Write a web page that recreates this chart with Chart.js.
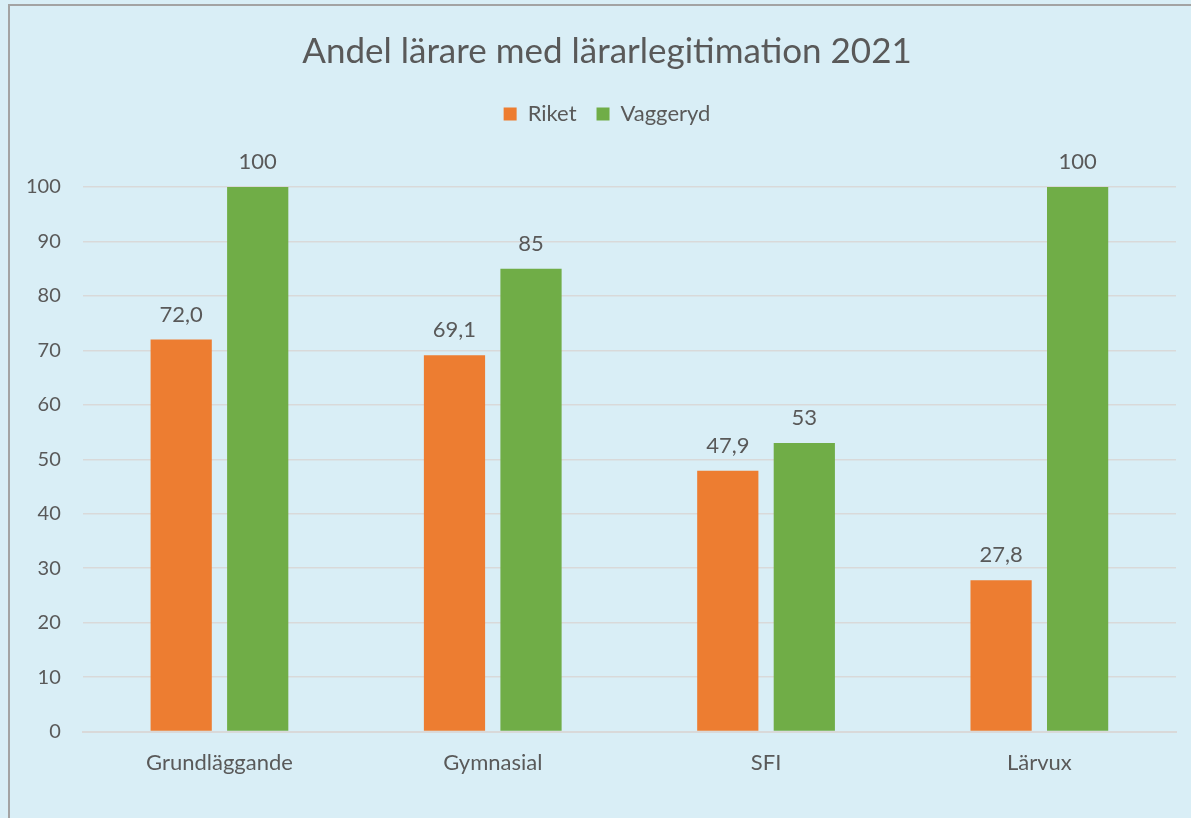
<!DOCTYPE html>
<html>
<head>
<meta charset="utf-8">
<script src="https://cdn.jsdelivr.net/npm/chart.js@4"></script>
<style>
  html, body { margin: 0; padding: 0; background: #d9eef6; overflow: hidden; }
  #frame {
    position: absolute; left: 8px; top: 4px; width: 1300px; height: 900px;
    border-left: 2px solid #a3a3a3; border-top: 2px solid #a3a3a3;
  }
  /* the original chart runs past the right edge, so the canvas does too */
  #chart { position: absolute; left: 0; top: 0; }
</style>
</head>
<body>
<div id="frame"></div>
<canvas id="chart" width="1214" height="818"></canvas>
<script>
const categories = ["Grundläggande", "Gymnasial", "SFI", "Lärvux"];
const riket = [72.0, 69.1, 47.9, 27.8];
const vaggeryd = [100, 85, 53, 100];
const riketLabels = ["72,0", "69,1", "47,9", "27,8"];
const vaggerydLabels = ["100", "85", "53", "100"];

const textColor = "#595959";
const fontFamily = "Lato, 'Open Sans', sans-serif";

// draw the value above each bar
const valueLabels = {
  id: "valueLabels",
  afterDatasetsDraw(chart) {
    const ctx = chart.ctx;
    ctx.save();
    ctx.fillStyle = textColor;
    ctx.font = "22px " + fontFamily;
    ctx.textAlign = "center";
    ctx.textBaseline = "middle";
    chart.data.datasets.forEach((ds, i) => {
      chart.getDatasetMeta(i).data.forEach((bar, j) => {
        ctx.fillText(ds.valueText[j], bar.x, bar.y - 25);
      });
    });
    ctx.restore();
  }
};

// extra room under the legend, like the original
const legendGap = {
  id: "legendGap",
  beforeLayout(chart) {
    const lg = chart.legend;
    if (lg && !lg._gapPatched) {
      const fit = lg.fit;
      lg.fit = function () {
        fit.call(this);
        this.height += 52;
      };
      lg._gapPatched = true;
    }
  }
};

new Chart(document.getElementById("chart"), {
  type: "bar",
  data: {
    labels: categories,
    datasets: [
      { label: "Riket", data: riket, valueText: riketLabels, backgroundColor: "#ed7d31" },
      { label: "Vaggeryd", data: vaggeryd, valueText: vaggerydLabels, backgroundColor: "#70ad47" }
    ]
  },
  options: {
    responsive: false,
    animation: false,
    categoryPercentage: 0.56,
    barPercentage: 0.8,
    layout: { padding: { left: 4, right: 4, top: 20, bottom: 24 } },
    plugins: {
      title: {
        display: true,
        text: "Andel lärare med lärarlegitimation 2021",
        color: textColor,
        font: { family: fontFamily, size: 35, weight: "normal" },
        padding: { top: 11, bottom: 10 }
      },
      legend: {
        display: true,
        labels: {
          color: textColor,
          font: { family: fontFamily, size: 22 },
          boxWidth: 13,
          boxHeight: 13,
          padding: 20
        }
      },
      tooltip: { enabled: false }
    },
    scales: {
      x: {
        grid: { display: false, drawTicks: false },
        border: { color: "#d9d9d9", width: 2 },
        ticks: { color: textColor, font: { family: fontFamily, size: 22 }, padding: 18 }
      },
      y: {
        min: 0,
        max: 100,
        ticks: { stepSize: 10, color: textColor, font: { family: fontFamily, size: 20 }, padding: 22 },
        grid: { color: "#d9d9d9", lineWidth: 1.5, drawTicks: false },
        border: { display: false }
      },
      // empty right-hand space, keeps the plot edge where the original has it
      spacer: {
        type: "linear",
        position: "right",
        grid: { display: false, drawTicks: false },
        border: { display: false },
        ticks: { display: false },
        afterFit(scale) { scale.width = 34; }
      }
    }
  },
  plugins: [valueLabels, legendGap]
});
</script>
</body>
</html>
